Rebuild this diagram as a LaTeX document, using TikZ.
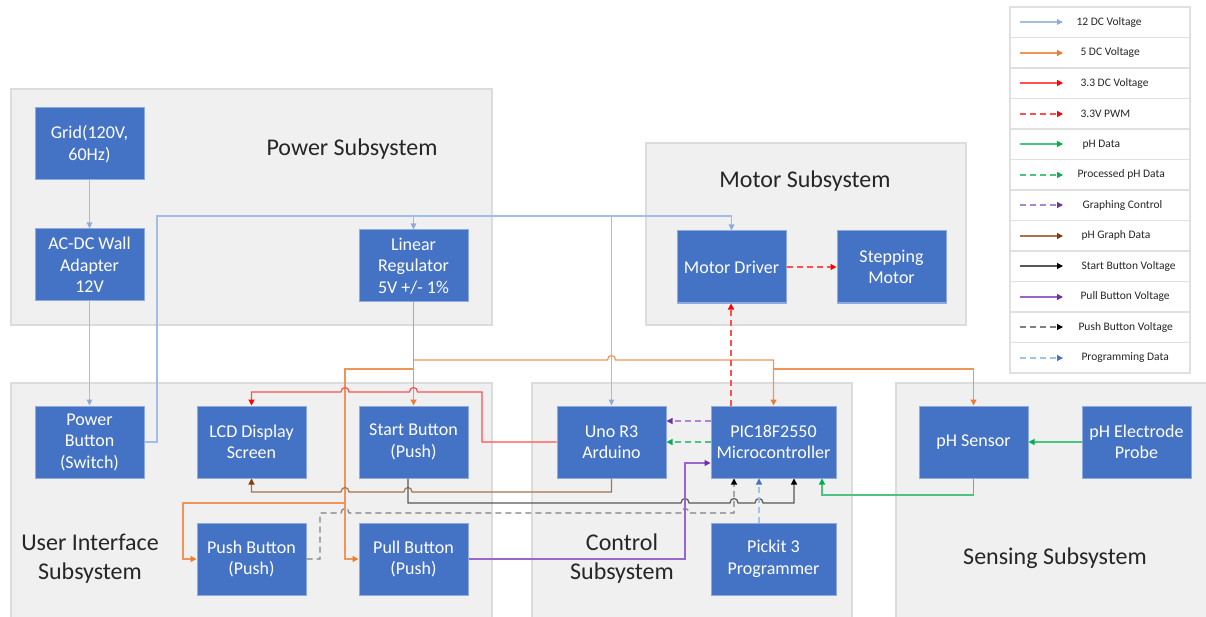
\documentclass[tikz,border=0pt]{standalone}
\usepackage{fontspec}
\setmainfont{Carlito}
\usetikzlibrary{arrows.meta}
\definecolor{boxblue}{HTML}{4472C4}
\definecolor{boxedge}{HTML}{8FAADC}
\definecolor{subfill}{HTML}{F0F0F0}
\definecolor{subedge}{HTML}{DCDCDC}
\definecolor{cblue}{HTML}{A3BEE6}
\definecolor{cbluetip}{HTML}{8FAADC}
\definecolor{corange}{HTML}{F0955A}
\definecolor{corangetip}{HTML}{ED7D31}
\definecolor{lnred}{HTML}{FF5050}
\definecolor{tipred}{HTML}{FF0000}
\definecolor{cgreen}{HTML}{4CC47F}
\definecolor{cgreentip}{HTML}{00B050}
\definecolor{cpurple}{HTML}{9966CC}
\definecolor{cpurpletip}{HTML}{7030A0}
\definecolor{cbrown}{HTML}{A8724E}
\definecolor{cbrowntip}{HTML}{843C0C}
\definecolor{cblack}{HTML}{595959}
\definecolor{cgrey}{HTML}{7F7F7F}
\definecolor{cprog}{HTML}{9DC3E6}
\definecolor{cprogtip}{HTML}{4472C4}
\newcommand\hopR[2]{-- ({#1-4},#2) .. controls ({#1-4},{#2-6}) and ({#1+4},{#2-6}) .. ({#1+4},#2)}
\newcommand\hopL[2]{-- ({#1+4},#2) .. controls ({#1+4},{#2-6}) and ({#1-4},{#2-6}) .. ({#1-4},#2)}
\tikzset{
  box/.style={rectangle, fill=boxblue, draw=boxedge, line width=1pt, text=white,
    minimum width=109pt, minimum height=72pt, align=center, inner sep=2pt,
    font=\fontsize{18}{21.5}\selectfont},
  widebox/.style={box, minimum width=125pt},
  sub/.style={fill=subfill, draw=subedge, line width=1.3pt},
  lbl/.style={text=black!85, align=center, font=\fontsize{24}{29}\selectfont},
  lg/.style={anchor=west, text=black!85, font=\fontsize{11.5}{13}\selectfont},
  ln/.style={line width=1.2pt},
  dsh/.style={dash pattern=on 6pt off 4pt},
  v12/.style={ln, draw=cblue, -{Triangle[length=6pt,width=5.5pt,color=cbluetip]}},
  v5/.style={ln, draw=corange, -{Triangle[length=6pt,width=6pt,color=corangetip]}},
  v33/.style={ln, draw=lnred, -{Triangle[length=6pt,width=6pt,color=tipred]}},
  pwmline/.style={line width=1.4pt, draw=lnred, dsh, -{Triangle[length=6pt,width=6pt,color=tipred]}},
  phd/.style={ln, draw=cgreen, -{Triangle[length=6pt,width=6pt,color=cgreentip]}},
  pphd/.style={ln, draw=cgreen, dsh, -{Triangle[length=6pt,width=6pt,color=cgreentip]}},
  gctl/.style={ln, draw=cpurple!80, dsh, -{Triangle[length=6pt,width=6pt,color=cpurpletip]}},
  pgd/.style={ln, draw=cbrown, -{Triangle[length=6pt,width=6pt,color=cbrowntip]}},
  sbv/.style={ln, draw=cblack, -{Triangle[length=6pt,width=6pt,color=black]}},
  pbv/.style={ln, draw=cpurple, -{Triangle[length=6pt,width=6pt,color=cpurpletip]}},
  pushv/.style={ln, draw=cgrey, dsh, -{Triangle[length=6pt,width=6pt,color=black]}},
  progd/.style={ln, draw=cprog, dsh, -{Triangle[length=6pt,width=6pt,color=cprogtip]}},
}
\begin{document}
\begin{tikzpicture}[x=1pt, y=-1pt]
\useasboundingbox (0,0) rectangle (1206,617);
% subsystem backgrounds
\draw[sub] (11,89) rectangle (492,325);
\draw[sub] (646,143) rectangle (966,325);
\draw[sub] (11,383) rectangle (492,618);
\draw[sub] (532,383) rectangle (852,618);
\draw[sub] (896,383) rectangle (1207,618);
% subsystem labels
\node[lbl] (lpow) at (352,149) {Power Subsystem};
\node[lbl] (lmot) at (805,181) {Motor Subsystem};
\node[lbl] (lui) at (90,559) {User Interface\\Subsystem};
\node[lbl] (lctl) at (622,559) {Control\\Subsystem};
\node[lbl] (lsen) at (1055,558) {Sensing Subsystem};
% blocks
\node[box] (grid) at (89.5,144) {Grid(120V,\\60Hz)};
\node[box] (acdc) at (89.5,265) {AC-DC Wall\\Adapter\\12V};
\node[box] (lr) at (413.5,266) {Linear\\Regulator\\5V +/- 1\%};
\node[box] (md) at (731.5,267) {Motor Driver};
\node[box] (sm) at (891.5,267) {Stepping\\Motor};
\node[box] (pwr) at (89.5,442) {Power\\Button\\(Switch)};
\node[box] (lcd) at (251.5,442) {LCD Display\\Screen};
\node[box] (st) at (413.5,442) {Start Button\\(Push)};
\node[box] (uno) at (611.5,442) {Uno R3\\Arduino};
\node[box] (push) at (251.5,559) {Push Button\\(Push)};
\node[box] (pull) at (413.5,559) {Pull Button\\(Push)};
\node[widebox] (pic) at (773.5,442) {PIC18F2550\\Microcontroller};
\node[widebox] (pk) at (773.5,559) {Pickit 3\\Programmer};
\node[box] (phs) at (973.5,442) {pH Sensor};
\node[box] (phe) at (1136.5,442) {pH Electrode\\Probe};
% 12 V connectors
\draw[v12] (grid) -- (acdc);
\draw[v12] (acdc) -- (pwr);
\draw[v12] (pwr.east) -- (157,442) -- (157,216) -| (md.north);
\draw[v12] (413.5,216) -- (lr.north);
\draw[v12] (611.5,216) -- (uno.north);
% 5 V connectors
\draw[v5] (lr.south) -- (st.north);
\draw[v5] (413.5,360) \hopR{611.5}{360} -| (pic.north);
\draw[v5] (773.5,369) -| (phs.north);
\draw[v5] (413.5,369) -- (345,369) |- (pull.west);
\draw[v5] (345,503) -- (183,503) |- (push.west);
% 3.3 V
\draw[v33] (uno.west) -- (482,442) -- (482,392) \hopL{413.5}{392} \hopL{345}{392} -- (251.5,392) -- (lcd.north);
% pH graph data
\draw[pgd] (uno.south) -- (611.5,492) \hopL{408}{492} \hopL{345}{492} -- (251.5,492) -- (lcd.south);
% start button voltage
\draw[sbv] ([xshift=-5.5pt]st.south) -- (408,503) \hopR{685}{503} \hopR{734}{503} \hopR{759}{503} -- (794,503) -- ([xshift=20.5pt]pic.south);
% push button voltage
\draw[pushv] (push.east) -- (320,559) -- (320,513) \hopR{345}{513} \hopR{685}{513} -- (734,513) -- ([xshift=-39.5pt]pic.south);
% pull button voltage
\draw[pbv] (pull.east) -- (685,559) -- (685,463) -- (pic.west |- 0,463);
% programming data
\draw[progd] ([xshift=-14.5pt]pk.north) -- ([xshift=-14.5pt]pic.south);
% PIC to Uno
\draw[gctl] (pic.west |- 0,421) -- (uno.east |- 0,421);
\draw[pphd] (pic.west) -- (uno.east);
% PWM
\coordinate (pwmtop) at ([xshift=-0.5pt]md.south);
\draw[pwmline] (pic.north -| pwmtop) -- (pwmtop);
\draw[pwmline] (md.east) -- (sm.west);
% pH data
\draw[phd] (phe.west) -- (phs.east);
\draw[phd] (phs.south) -- (973.5,495) -| ([xshift=48.5pt]pic.south);
% legend
\foreach \i in {0,...,11} {
  \draw[draw=black!12, fill=white, line width=1.5pt] (1010,{7+30.5*\i}) rectangle (1190,{7+30.5*(\i+1)});
}
\foreach \i/\st/\xx/\tx in {0/v12/1073/12 DC Voltage, 1/v5/1077/5 DC Voltage, 2/v33/1077/3.3 DC Voltage, 3/pwmline/1077/3.3V PWM, 4/phd/1079/pH Data, 5/pphd/1074/Processed pH Data, 6/gctl/1079/Graphing Control, 7/pgd/1078/pH Graph Data, 8/sbv/1078/Start Button Voltage, 9/pbv/1077/Pull Button Voltage, 10/pushv/1075/Push Button Voltage, 11/progd/1078/Programming Data} {
  \draw[\st] (1020,{round(7+30.5*(\i+0.5))}) -- (1063,{round(7+30.5*(\i+0.5))});
  \node[lg] at (\xx,{7+30.5*(\i+0.5)}) {\tx};
}
\end{tikzpicture}
\end{document}
